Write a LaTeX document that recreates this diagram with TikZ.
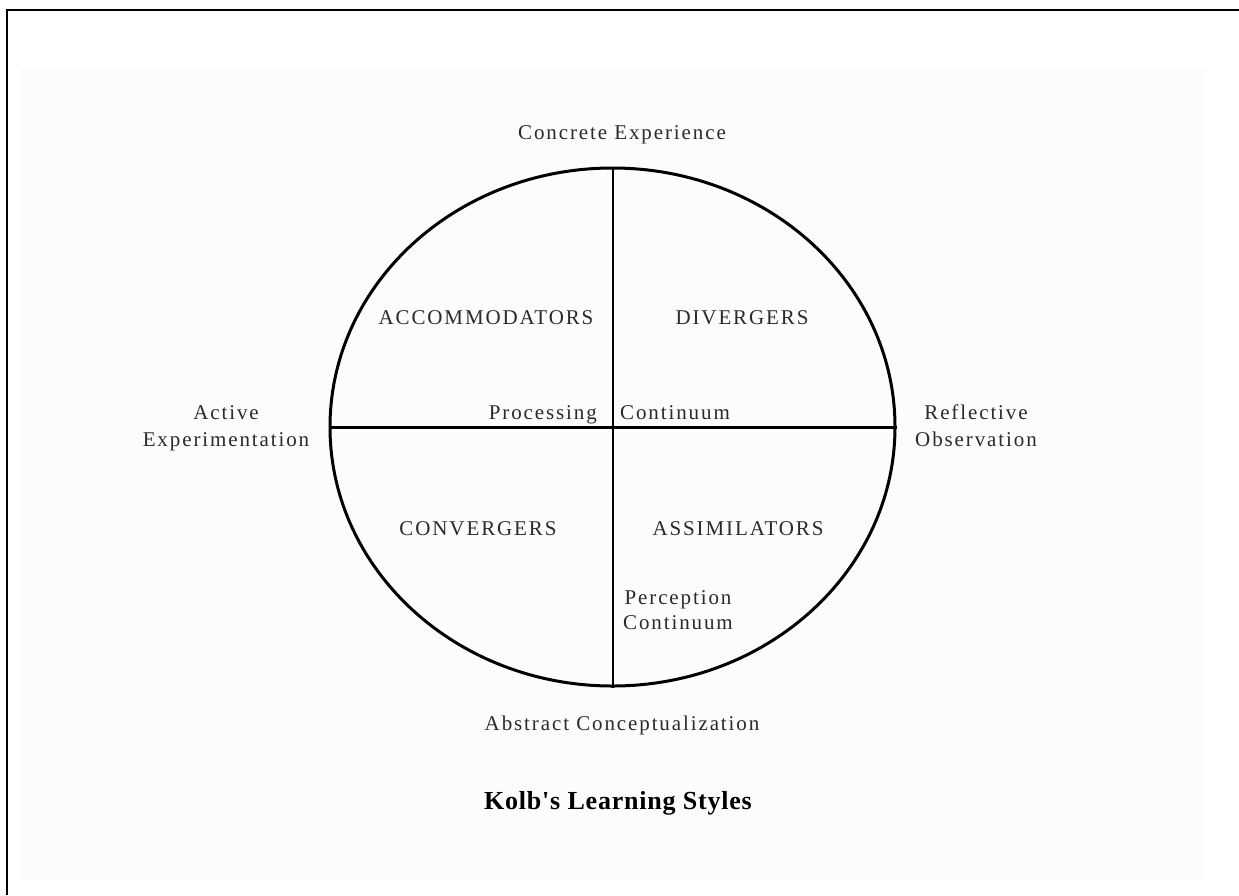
\documentclass[tikz,border=0pt]{standalone}
\usepackage{fontspec}
\setmainfont{Liberation Serif}
\newfontfamily\kolbfont[LetterSpace=9]{Liberation Serif}
\newfontfamily\titlefont[LetterSpace=3]{Liberation Serif}
\usetikzlibrary{shapes.geometric}
\definecolor{panelgray}{HTML}{FCFCFC}
\definecolor{inkgray}{HTML}{2A2A2A}
\tikzset{
  pole/.style={inkgray, font=\kolbfont\fontsize{21}{27}\selectfont, align=center, inner sep=0pt, anchor=base},
  quadrant/.style={pole},
}
\begin{document}
\begin{tikzpicture}[x=1pt, y=-1pt]
  \useasboundingbox (0,0) rectangle (1239,895);

  % Frame and panel
  \fill[panelgray] (21,68) rectangle (1206,880);
  \draw[line width=2.5pt] (7,895) -- (7,10) -- (1239,10);

  % Learning cycle
  \node[ellipse, draw, line width=3pt, minimum width=565pt, minimum height=518pt, inner sep=0pt] (cycle) at (612.5,427) {};
  \draw[line width=2pt] (cycle.north) -- (cycle.south);
  \draw[line width=3pt] (cycle.west) -- (cycle.east);

  % Poles (base of a two-line node is its last line)
  \node[pole] (concrete) at (622,139) {Concrete Experience};
  \node[pole] (active) at (226,446) {Active\\Experimentation};
  \node[pole] (reflective) at (976,446) {Reflective\\Observation};
  \node[pole] (abstract) at (622,730) {Abstract Conceptualization};

  % Quadrants
  \node[quadrant] (accommodators) at (486,324) {ACCOMMODATORS};
  \node[quadrant] (divergers) at (742,324) {DIVERGERS};
  \node[quadrant] (convergers) at (478,535) {CONVERGERS};
  \node[quadrant] (assimilators) at (738,535) {ASSIMILATORS};

  % Continua
  \node[pole, anchor=base east] (processing) at (597,419) {Processing};
  \node[pole, anchor=base west] (proccont) at (620,419) {Continuum};
  \node[pole, font=\kolbfont\fontsize{21}{25}\selectfont] (perception) at (678,629) {Perception\\Continuum};

  % Title
  \node[anchor=base, inner sep=0pt, font=\titlefont\bfseries\fontsize{26}{30}\selectfont] (title) at (618,809) {Kolb's Learning Styles};

\end{tikzpicture}
\end{document}
